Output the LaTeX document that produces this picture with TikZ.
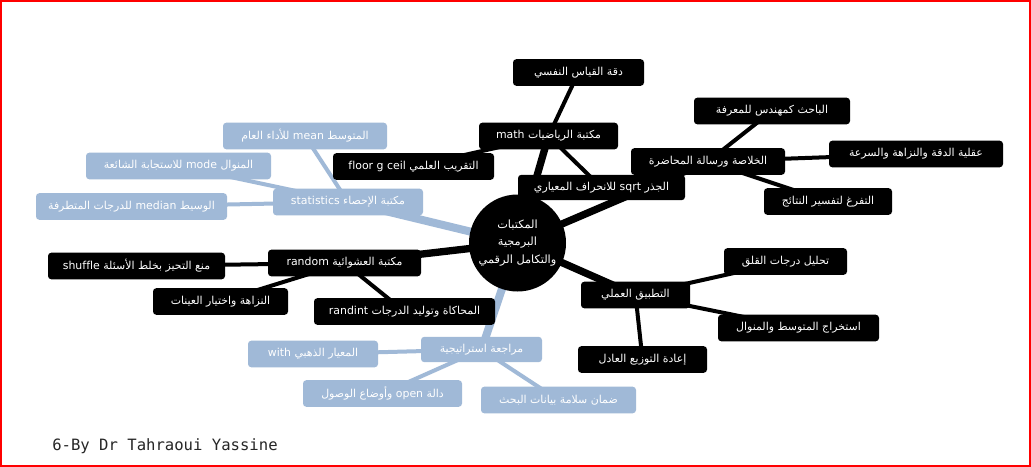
\documentclass[tikz,border=0pt]{standalone}
\usepackage{fontspec}
\newfontfamily\arabicfont[Script=Arabic]{DejaVu Sans}
\newfontfamily\footfont{DejaVu Sans Mono}
\TeXXeTstate=1
\usetikzlibrary{backgrounds}
\definecolor{bluefill}{RGB}{160,185,215}
\newcommand{\rtl}[1]{\beginR #1\endR}
\newcommand{\ltr}[1]{\beginL #1\endL{}}
\tikzset{
  blk/.style={rectangle, rounded corners=2.5pt, fill=black, text=white, inner sep=0pt,
    minimum height=20pt, font=\arabicfont\fontsize{8.2}{10}\selectfont},
  bluebox/.style={blk, fill=bluefill},
  hubnode/.style={circle, fill=black, text=white, inner sep=0pt, minimum size=72.75pt,
    align=center, font=\arabicfont\fontsize{8.5}{13}\selectfont},
  mainblack/.style={line width=5.5pt, black},
  subblack/.style={line width=3pt, black},
  mainblue/.style={line width=6pt, bluefill},
  subblue/.style={line width=3pt, bluefill}
}
\begin{document}
\begin{tikzpicture}[x=0.75pt, y=-0.75pt]
\useasboundingbox (0,0) rectangle (1031,467);
% hub
\node[hubnode] (hub) at (517.5,243) {\rtl{المكتبات}\\ \rtl{البرمجية}\\ \rtl{والتكامل الرقمي}};
% math branch
\node[blk, minimum width=104.25pt] (math) at (548.5,136) {\rtl{مكتبة الرياضيات \ltr{math}}};
\node[blk, minimum width=98.25pt] (qiyas) at (578.5,72.5) {\rtl{دقة القياس النفسي}};
\node[blk, minimum width=120.75pt] (floor) at (413.5,166.5) {\rtl{التقريب العلمي \ltr{floor g ceil}}};
\node[blk, minimum width=125.25pt, minimum height=19pt] (sqrt) at (601.5,187.5) {\rtl{الجذر \ltr{sqrt} للانحراف المعياري}};
% conclusion branch
\node[blk, minimum width=115.5pt] (khulasa) at (708,161.5) {\rtl{الخلاصة ورسالة المحاضرة}};
\node[blk, minimum width=117pt] (bahith) at (772,111) {\rtl{الباحث كمهندس للمعرفة}};
\node[blk, minimum width=130.5pt] (aqliya) at (916,154) {\rtl{عقلية الدقة والنزاهة والسرعة}};
\node[blk, minimum width=96pt] (tafarrugh) at (828,201.5) {\rtl{التفرغ لتفسير النتائج}};
% random branch
\node[blk, minimum width=114.75pt] (random) at (344.5,263) {\rtl{مكتبة العشوائية \ltr{random}}};
\node[blk, minimum width=132.75pt] (shuffle) at (136.5,266) {\rtl{منع التحيز بخلط الأسئلة \ltr{shuffle}}};
\node[blk, minimum width=101.25pt] (nazaha) at (220.5,301.5) {\rtl{النزاهة واختيار العينات}};
\node[blk, minimum width=135.75pt] (randint) at (404.5,311.5) {\rtl{المحاكاة وتوليد الدرجات \ltr{randint}}};
% practice branch
\node[blk, minimum width=81.75pt] (tatbiq) at (635.5,295) {\rtl{التطبيق العملي}};
\node[blk, minimum width=92.25pt] (tahlil) at (785.5,261.5) {\rtl{تحليل درجات القلق}};
\node[blk, minimum width=120.75pt] (istikhraj) at (798.5,328) {\rtl{استخراج المتوسط والمنوال}};
\node[blk, minimum width=96.75pt] (iada) at (642.5,359.5) {\rtl{إعادة التوزيع العادل}};
% statistics branch
\node[bluebox, minimum width=112.5pt] (stats) at (348,202) {\rtl{مكتبة الإحصاء \ltr{statistics}}};
\node[bluebox, minimum width=123pt] (mean) at (305,136) {\rtl{المتوسط \ltr{mean} للأداء العام}};
\node[bluebox, minimum width=138.75pt] (mode) at (178.5,166) {\rtl{المنوال \ltr{mode} للاستجابة الشائعة}};
\node[bluebox, minimum width=143.25pt] (median) at (131.5,206.5) {\rtl{الوسيط \ltr{median} للدرجات المتطرفة}};
% review branch
\node[bluebox, minimum width=90.75pt, minimum height=19pt] (muraja) at (481.5,349.5) {\rtl{مراجعة استراتيجية}};
\node[bluebox, minimum width=97.5pt] (with) at (313,354) {\rtl{المعيار الذهبي \ltr{with}}};
\node[bluebox, minimum width=119.25pt] (open) at (382.5,393.5) {\rtl{دالة \ltr{open} وأوضاع الوصول}};
\node[bluebox, minimum width=116.25pt] (daman) at (558.5,400) {\rtl{ضمان سلامة بيانات البحث}};
% footer
\node[anchor=west, inner sep=0pt, text=black!85, font=\footfont\fontsize{11.7}{14}\selectfont] (foot) at (52,446) {6-By Dr Tahraoui Yassine};
% connectors
\begin{scope}[on background layer]
\fill[white] (0,0) rectangle (1031,467);
\draw[mainblack] (hub.center) -- (math.center);
\draw[mainblack] (hub.center) -- (khulasa.center);
\draw[mainblack] (hub.center) -- (random.center);
\draw[mainblack] (hub.center) -- (tatbiq.center);
\draw[mainblue] (hub.center) -- (stats.center);
\draw[mainblue] (hub.center) -- (muraja.center);
\draw[subblack] (math.center) -- (qiyas.center);
\draw[subblack] (math.center) -- (floor.center);
\draw[subblack] (math.center) -- (sqrt.center);
\draw[subblack] (khulasa.center) -- (bahith.center);
\draw[subblack] (khulasa.center) -- (aqliya.center);
\draw[subblack] (khulasa.center) -- (tafarrugh.center);
\draw[subblack] (random.center) -- (shuffle.center);
\draw[subblack] (random.center) -- (nazaha.center);
\draw[subblack] (random.center) -- (randint.center);
\draw[subblack] (tatbiq.center) -- (tahlil.center);
\draw[subblack] (tatbiq.center) -- (istikhraj.center);
\draw[subblack] (tatbiq.center) -- (iada.center);
\draw[subblue] (stats.center) -- (mean.center);
\draw[subblue] (stats.center) -- (mode.center);
\draw[subblue] (stats.center) -- (median.center);
\draw[subblue] (muraja.center) -- (with.center);
\draw[subblue] (muraja.center) -- (open.center);
\draw[subblue] (muraja.center) -- (daman.center);
\end{scope}
% frame
\draw[red, line width=1.6pt] (1.2,1.2) rectangle (1029.6,465.6);
\end{tikzpicture}
\end{document}
